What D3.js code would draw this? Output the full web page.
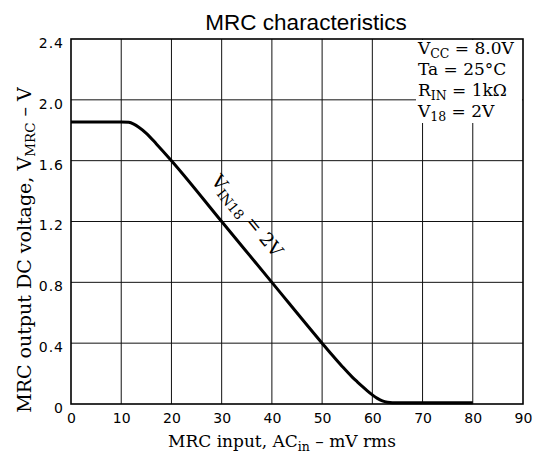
<!DOCTYPE html>
<html><head><meta charset="utf-8">
<script src="https://cdn.jsdelivr.net/npm/d3@7"></script>
<style>
html,body{margin:0;padding:0;background:#fff;}
svg{display:block;}
.tick text{font-family:"DejaVu Sans",sans-serif;}
</style></head>
<body><svg id="c" width="536" height="453"></svg>
<script>
// data
const xTicks = [0,10,20,30,40,50,60,70,80,90];
const yTicks = [0,0.4,0.8,1.2,1.6,2.0,2.4];
const yTickLabels = ["0","0.4","0.8","1.2","1.6","2.0","2.4"];
const inputMv = [0,10,11.5,12.5,13.5,15,17,20,30,40,50,52,54,56,57,58,59,60,61,62,63,64,66,80];
const outputV = [1.855,1.855,1.852,1.84,1.82,1.78,1.71,1.6,1.2,0.8,0.4,0.322,0.247,0.177,0.146,0.116,0.087,0.06,0.037,0.02,0.011,0.008,0.008,0.008];
const conditions = [
  ["V","CC"," = 8.0V"],
  ["Ta",""," = 25°C"],
  ["R","IN"," = 1kΩ"],
  ["V","18"," = 2V"]
];

const svg = d3.select("#c");
const L=71, R=523, T=39, B=404;
const x = d3.scaleLinear().domain([0,90]).range([L,R]);
const y = d3.scaleLinear().domain([0,2.4]).range([B,T]);

// grid
const g = svg.append("g");
g.selectAll("line.vx").data(xTicks.slice(1,-1)).enter().append("line")
  .attr("x1",d=>x(d)).attr("x2",d=>x(d)).attr("y1",T).attr("y2",B)
  .attr("stroke","#111").attr("stroke-width",1);
g.selectAll("line.hy").data(yTicks.slice(1,-1)).enter().append("line")
  .attr("x1",L).attr("x2",R).attr("y1",d=>y(d)).attr("y2",d=>y(d))
  .attr("stroke","#111").attr("stroke-width",1);

// white backing for condition text
const condX = 418;
const condY = [54,75,96,117];
svg.append("rect").attr("x",condX-2).attr("y",T+1).attr("width",R-condX+1).attr("height",condY[3]+5-T)
  .attr("fill","#fff");

svg.append("rect").attr("x",L).attr("y",T).attr("width",R-L).attr("height",B-T)
  .attr("fill","none").attr("stroke","#000").attr("stroke-width",1.6);

// axes ticks labels
const xa = svg.append("g").attr("transform",`translate(0,${B})`)
  .call(d3.axisBottom(x).tickValues(xTicks).tickSize(0).tickPadding(9).tickFormat(d3.format("d")));
xa.select(".domain").remove();
xa.selectAll("text").attr("font-size",14).attr("fill","#000");

const ya = svg.append("g").attr("transform",`translate(${L},0)`)
  .call(d3.axisLeft(y).tickValues(yTicks).tickSize(0).tickPadding(7).tickFormat((d,i)=>yTickLabels[i]));
ya.select(".domain").remove();
ya.selectAll("text").attr("font-size",14).attr("fill","#000").attr("dy","0.6em").attr("letter-spacing",1);

// curve
const line = d3.line().x((d,i)=>x(inputMv[i])).y(d=>y(d)).curve(d3.curveMonotoneX);
svg.append("path").attr("d",line(outputV)).attr("fill","none").attr("stroke","#000")
  .attr("stroke-width",3).attr("stroke-linejoin","round");

// conditions
const serif = "'DejaVu Serif','Liberation Serif',serif";
conditions.forEach((c,i)=>{
  const t = svg.append("text").attr("x",condX).attr("y",condY[i])
    .attr("font-family",serif).attr("font-size",17).attr("fill","#000");
  t.append("tspan").text(c[0]);
  if(c[1]) t.append("tspan").attr("font-size",12.5).attr("dy",4).text(c[1]);
  t.append("tspan").attr("dy",c[1]?-4:0).text(c[2]);
});

// curve label, placed parallel to the straight part of the curve
const p1 = [x(20),y(1.6)], p2 = [x(50),y(0.4)];
const dx = p2[0]-p1[0], dy = p2[1]-p1[1], len = Math.hypot(dx,dy);
const ang = Math.atan2(dy,dx)*180/Math.PI;
const nx = dy/len, ny = -dx/len; // normal pointing up-right
const cx = x(31.5), cy = y(1.2 - 0.04*1.5);
const lx = cx + nx*17, ly = cy + ny*17;
const lt = svg.append("text").attr("transform",`translate(${lx},${ly}) rotate(${ang})`)
  .attr("text-anchor","middle").attr("font-family",serif).attr("font-size",18.5).attr("fill","#000");
lt.append("tspan").text("V");
lt.append("tspan").attr("font-size",13.5).attr("dy",4).text("IN18");
lt.append("tspan").attr("dy",-4).text(" = 2V");

// title
svg.append("text").attr("x",306).attr("y",30).attr("text-anchor","middle")
  .attr("font-family","'Liberation Sans',Arial,sans-serif").attr("font-size",22.5).attr("fill","#000")
  .text("MRC characteristics");

// x axis title
const xt = svg.append("text").attr("x",282).attr("y",447).attr("text-anchor","middle")
  .attr("font-family",serif).attr("font-size",17).attr("fill","#000");
xt.append("tspan").text("MRC input, AC");
xt.append("tspan").attr("font-size",12.5).attr("dy",4).text("in");
xt.append("tspan").attr("dy",-4).text(" – mV rms");

// y axis title
const yt = svg.append("text").attr("transform",`translate(31,250) rotate(-90)`).attr("text-anchor","middle")
  .attr("font-family",serif).attr("font-size",19).attr("fill","#000");
yt.append("tspan").text("MRC output DC voltage, V");
yt.append("tspan").attr("font-size",13.5).attr("dy",4).text("MRC");
yt.append("tspan").attr("dy",-4).text(" – V");
</script></body></html>
